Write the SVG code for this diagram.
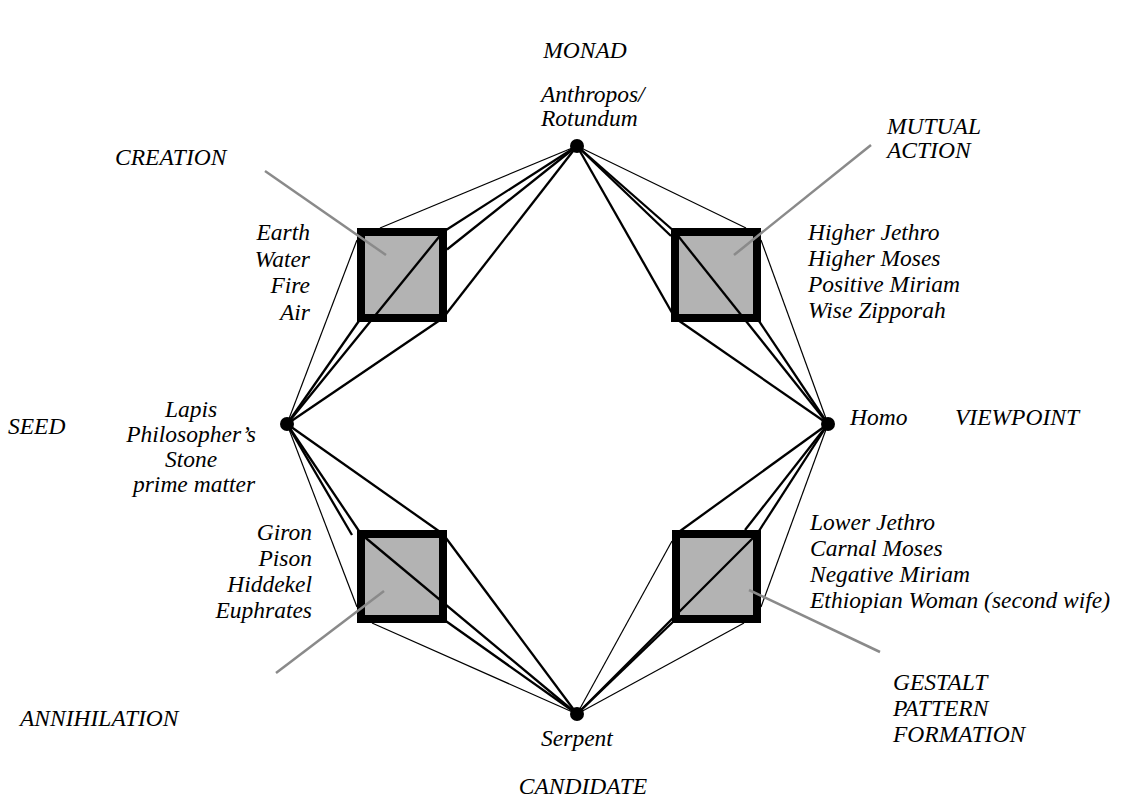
<svg xmlns="http://www.w3.org/2000/svg" width="1123" height="807" viewBox="0 0 1123 807">
<style>
text{font-family:"Liberation Serif","Times New Roman",serif;font-style:italic;font-size:23.5px;fill:#000}
.sq{fill:#b3b3b3;stroke:#000;stroke-width:8}
.th{stroke:#000;stroke-width:2.3;fill:none}
.tn{stroke:#000;stroke-width:1.2;fill:none}
.co{stroke:#8a8a8a;stroke-width:2.5;fill:none}
.dot{fill:#000}
.r{text-anchor:end}
.m{text-anchor:middle}
</style>
<rect width="1123" height="807" fill="#fff"/>
<g id="sq-creation"><rect class="sq" x="361" y="232" width="82" height="86"/></g>
<g id="sq-mutual"><rect class="sq" x="675" y="232" width="82" height="86"/></g>
<g id="sq-annihilation"><rect class="sq" x="361" y="534" width="82" height="85"/></g>
<g id="sq-gestalt"><rect class="sq" x="676" y="534" width="81" height="85"/></g>
<g id="connectors">
<line class="tn" x1="577" y1="146" x2="380" y2="228"/>
<line class="tn" x1="287" y1="424" x2="357" y2="240"/>
<line class="th" x1="577" y1="146" x2="443" y2="232"/>
<line class="th" x1="287" y1="424" x2="443" y2="232"/>
<line class="th" x1="577" y1="146" x2="447" y2="249.5"/>
<line class="th" x1="287" y1="424" x2="361" y2="318"/>
<line class="th" x1="577" y1="146" x2="443" y2="318"/>
<line class="th" x1="287" y1="424" x2="443" y2="318"/>
<line class="tn" x1="577" y1="146" x2="746" y2="228"/>
<line class="tn" x1="828" y1="424" x2="761" y2="240"/>
<line class="th" x1="577" y1="146" x2="675" y2="232"/>
<line class="th" x1="828" y1="424" x2="675" y2="232"/>
<line class="th" x1="577" y1="146" x2="671" y2="236"/>
<line class="th" x1="828" y1="424" x2="757" y2="318"/>
<line class="th" x1="577" y1="146" x2="675" y2="318"/>
<line class="th" x1="828" y1="424" x2="675" y2="318"/>
<line class="tn" x1="287" y1="424" x2="357" y2="607"/>
<line class="tn" x1="577" y1="714" x2="372" y2="623"/>
<line class="th" x1="287" y1="424" x2="352" y2="535"/>
<line class="th" x1="287" y1="424" x2="361" y2="534"/>
<line class="th" x1="577" y1="714" x2="361" y2="534"/>
<line class="th" x1="287" y1="424" x2="443" y2="534"/>
<line class="th" x1="577" y1="714" x2="443" y2="534"/>
<line class="th" x1="577" y1="714" x2="443" y2="619"/>
<line class="tn" x1="828" y1="424" x2="761" y2="607"/>
<line class="tn" x1="577" y1="714" x2="744" y2="623"/>
<line class="th" x1="828" y1="424" x2="676" y2="534"/>
<line class="th" x1="828" y1="424" x2="757" y2="534"/>
<line class="th" x1="577" y1="714" x2="757" y2="534"/>
<line class="th" x1="828" y1="424" x2="745" y2="530"/>
<line class="th" x1="577" y1="714" x2="676" y2="619"/>
<line class="tn" x1="577" y1="714" x2="672" y2="541"/>
<line class="co" x1="265" y1="171" x2="386" y2="255"/>
<line class="co" x1="871" y1="145" x2="734" y2="255"/>
<line class="co" x1="276" y1="673" x2="384" y2="591"/>
<line class="co" x1="880" y1="652" x2="749" y2="590"/>
</g>
<g id="node-top"><circle class="dot" cx="577" cy="146" r="7"/><text x="541" y="102">Anthropos/</text><text x="541" y="126">Rotundum</text></g>
<g id="node-left"><circle class="dot" cx="287" cy="424" r="7"/><text class="m" x="191" y="417">Lapis</text><text class="m" x="191" y="442">Philosopher’s</text><text class="m" x="191" y="467">Stone</text><text class="m" x="194" y="492">prime matter</text></g>
<g id="node-right"><circle class="dot" cx="828" cy="424" r="7"/><text x="850" y="425">Homo</text></g>
<g id="node-bottom"><circle class="dot" cx="577" cy="714" r="7"/><text class="m" x="577" y="746">Serpent</text></g>
<g id="label-monad"><text class="m" x="585" y="58">MONAD</text></g>
<g id="label-seed"><text x="8" y="434">SEED</text></g>
<g id="label-viewpoint"><text x="955" y="425">VIEWPOINT</text></g>
<g id="label-candidate"><text class="m" x="583" y="794">CANDIDATE</text></g>
<g id="label-creation"><text x="115" y="165">CREATION</text></g>
<g id="label-mutual"><text x="887" y="134">MUTUAL</text><text x="887" y="158">ACTION</text></g>
<g id="label-annihilation"><text x="20" y="726">ANNIHILATION</text></g>
<g id="label-gestalt"><text x="893" y="690">GESTALT</text><text x="893" y="716">PATTERN</text><text x="893" y="742">FORMATION</text></g>
<g id="list-elements"><text class="r" x="310" y="240">Earth</text><text class="r" x="310" y="267">Water</text><text class="r" x="310" y="293">Fire</text><text class="r" x="310" y="320">Air</text></g>
<g id="list-higher"><text x="808" y="240">Higher Jethro</text><text x="808" y="266">Higher Moses</text><text x="808" y="292">Positive Miriam</text><text x="808" y="318">Wise Zipporah</text></g>
<g id="list-rivers"><text class="r" x="312" y="540">Giron</text><text class="r" x="312" y="566">Pison</text><text class="r" x="312" y="592">Hiddekel</text><text class="r" x="312" y="618">Euphrates</text></g>
<g id="list-lower"><text x="810" y="530">Lower Jethro</text><text x="810" y="556">Carnal Moses</text><text x="810" y="582">Negative Miriam</text><text x="810" y="608">Ethiopian Woman (second wife)</text></g>
</svg>
